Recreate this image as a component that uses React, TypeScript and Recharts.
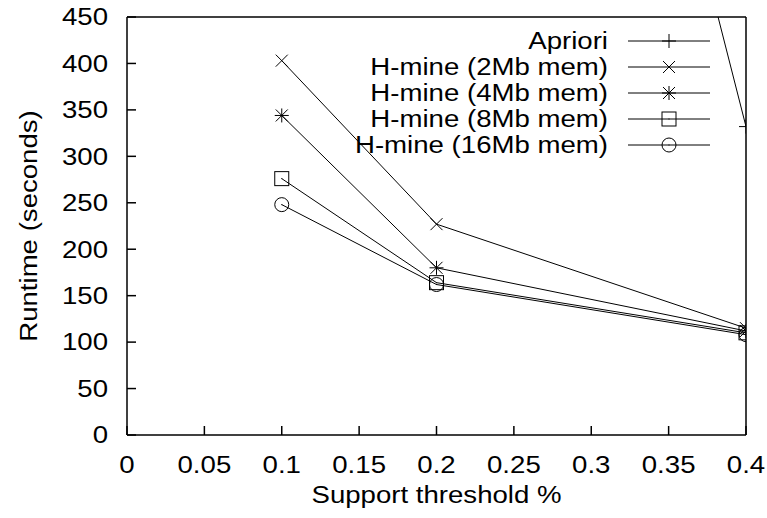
import { LineChart, Line, XAxis, YAxis, Legend } from 'recharts';

const xValues = [0.1, 0.2, 0.4];
const apriori = [null, 1640, 332];
const hmine2 = [403, 227, 115];
const hmine4 = [344, 180, 112];
const hmine8 = [276, 164, 110];
const hmine16 = [248, 162, 108];

const xTicks = [0, 0.05, 0.1, 0.15, 0.2, 0.25, 0.3, 0.35, 0.4];
const yTicks = [0, 50, 100, 150, 200, 250, 300, 350, 400, 450];

const series = [
  { key: 'apriori', name: 'Apriori', values: apriori, marker: 'plus' },
  { key: 'h2', name: 'H-mine (2Mb mem)', values: hmine2, marker: 'cross' },
  { key: 'h4', name: 'H-mine (4Mb mem)', values: hmine4, marker: 'star' },
  { key: 'h8', name: 'H-mine (8Mb mem)', values: hmine8, marker: 'square' },
  { key: 'h16', name: 'H-mine (16Mb mem)', values: hmine16, marker: 'circle' },
];

const data = xValues.map((x, i) => {
  const row: any = { x };
  series.forEach((s) => (row[s.key] = s.values[i]));
  return row;
});

const FONT = '"Liberation Sans", Arial, Helvetica, sans-serif';
const INK = '#000';
const STRETCH = 1.15;

function Marker({ type, cx, cy }: { type: string; cx: number; cy: number }) {
  const s = 7;
  const d = 6;
  const st = { stroke: INK, strokeWidth: 1, fill: 'none' };
  if (type === 'plus')
    return (
      <g>
        <line x1={cx - s} y1={cy} x2={cx + s} y2={cy} {...st} />
        <line x1={cx} y1={cy - s} x2={cx} y2={cy + s} {...st} />
      </g>
    );
  if (type === 'cross')
    return (
      <g>
        <line x1={cx - d} y1={cy - d} x2={cx + d} y2={cy + d} {...st} />
        <line x1={cx - d} y1={cy + d} x2={cx + d} y2={cy - d} {...st} />
      </g>
    );
  if (type === 'star')
    return (
      <g>
        <line x1={cx - s} y1={cy} x2={cx + s} y2={cy} {...st} />
        <line x1={cx} y1={cy - s} x2={cx} y2={cy + s} {...st} />
        <line x1={cx - d} y1={cy - d} x2={cx + d} y2={cy + d} {...st} />
        <line x1={cx - d} y1={cy + d} x2={cx + d} y2={cy - d} {...st} />
      </g>
    );
  if (type === 'square')
    return (
      <g>
        <rect x={cx - s} y={cy - s} width={2 * s} height={2 * s} {...st} />
        <rect x={cx - 0.5} y={cy - 0.5} width={1} height={1} fill={INK} />
      </g>
    );
  return (
    <g>
      <circle cx={cx} cy={cy} r={s} {...st} />
      <rect x={cx - 0.5} y={cy - 0.5} width={1} height={1} fill={INK} />
    </g>
  );
}

function YTick({ x, y, payload }: any) {
  return (
    <text
      transform={`translate(${x},${y}) scale(${STRETCH},1)`}
      textAnchor="end"
      dominantBaseline="central"
      fontFamily={FONT}
      fontSize={24}
      fill={INK}
    >
      {String(payload.value)}
    </text>
  );
}

function XTick({ x, y, payload }: any) {
  return (
    <text
      transform={`translate(${x},${y}) scale(${STRETCH},1)`}
      textAnchor="middle"
      dominantBaseline="central"
      fontFamily={FONT}
      fontSize={24}
      fill={INK}
    >
      {String(payload.value)}
    </text>
  );
}

function YLabel({ viewBox }: any) {
  const cx = viewBox.x + 29;
  const cy = viewBox.y + viewBox.height / 2;
  return (
    <text
      transform={`translate(${cx},${cy}) rotate(-90) scale(${STRETCH},1)`}
      textAnchor="middle"
      dominantBaseline="central"
      fontFamily={FONT}
      fontSize={24}
      fill={INK}
    >
      Runtime (seconds)
    </text>
  );
}

function XLabel({ viewBox }: any) {
  const cx = viewBox.x + viewBox.width / 2;
  const cy = viewBox.y + 60;
  return (
    <text
      transform={`translate(${cx},${cy}) scale(${STRETCH},1)`}
      textAnchor="middle"
      dominantBaseline="central"
      fontFamily={FONT}
      fontSize={24}
      fill={INK}
    >
      Support threshold %
    </text>
  );
}

function LegendBox() {
  return (
    <svg width={767} height={518} style={{ position: 'absolute', left: 0, top: 0 }}>
      {series.map((s, i) => {
        const y = 41 + i * 26;
        return (
          <g key={s.key}>
            <text
              transform={`translate(608,${y}) scale(${STRETCH},1)`}
              textAnchor="end"
              dominantBaseline="central"
              fontFamily={FONT}
              fontSize={24}
              fill={INK}
            >
              {s.name}
            </text>
            <line x1={628} y1={y} x2={710} y2={y} stroke={INK} strokeWidth={1} />
            <Marker type={s.marker} cx={669} cy={y} />
          </g>
        );
      })}
    </svg>
  );
}

export default function App() {
  return (
    <div style={{ position: 'absolute', left: 0, top: 0, width: 767, height: 518, background: '#fff' }}>
      <LineChart
        width={767}
        height={518}
        data={data}
        margin={{ top: 16, right: 20, bottom: 0, left: 0 }}
      >
        <XAxis
          dataKey="x"
          type="number"
          domain={[0, 0.4]}
          ticks={xTicks}
          allowDataOverflow
          height={83}
          tickSize={-9}
          tickMargin={39}
          tick={<XTick />}
          stroke={INK}
          strokeWidth={1.5}
          label={<XLabel />}
        />
        <XAxis
          xAxisId="top"
          orientation="top"
          dataKey="x"
          type="number"
          domain={[0, 0.4]}
          ticks={xTicks}
          allowDataOverflow
          height={1}
          tickSize={-9}
          tick={false}
          stroke={INK}
          strokeWidth={1.5}
        />
        <YAxis
          type="number"
          domain={[0, 450]}
          ticks={yTicks}
          allowDataOverflow
          width={127}
          tickSize={-9}
          tickMargin={28}
          tick={<YTick />}
          stroke={INK}
          strokeWidth={1.5}
          label={<YLabel />}
        />
        <YAxis
          yAxisId="right"
          orientation="right"
          type="number"
          domain={[0, 450]}
          ticks={yTicks}
          allowDataOverflow
          width={1}
          tickSize={-9}
          tick={false}
          stroke={INK}
          strokeWidth={1.5}
        />
        <Legend
          layout="vertical"
          align="center"
          verticalAlign="middle"
          wrapperStyle={{ left: 0, top: 0, width: 767, height: 518, pointerEvents: 'none' }}
          content={() => <LegendBox />}
        />
        {series.map((s) => (
          <Line
            key={s.key}
            dataKey={s.key}
            name={s.name}
            type="linear"
            stroke={INK}
            strokeWidth={1}
            isAnimationActive={false}
            connectNulls={false}
            dot={(p: any) =>
              p.cx == null || p.cy == null || p.value == null ? (
                <g key={p.key ?? `${s.key}-${p.index}`} />
              ) : (
                <g key={p.key ?? `${s.key}-${p.index}`}>
                  <Marker type={s.marker} cx={p.cx} cy={p.cy} />
                </g>
              )
            }
            activeDot={false}
          />
        ))}
      </LineChart>
    </div>
  );
}
